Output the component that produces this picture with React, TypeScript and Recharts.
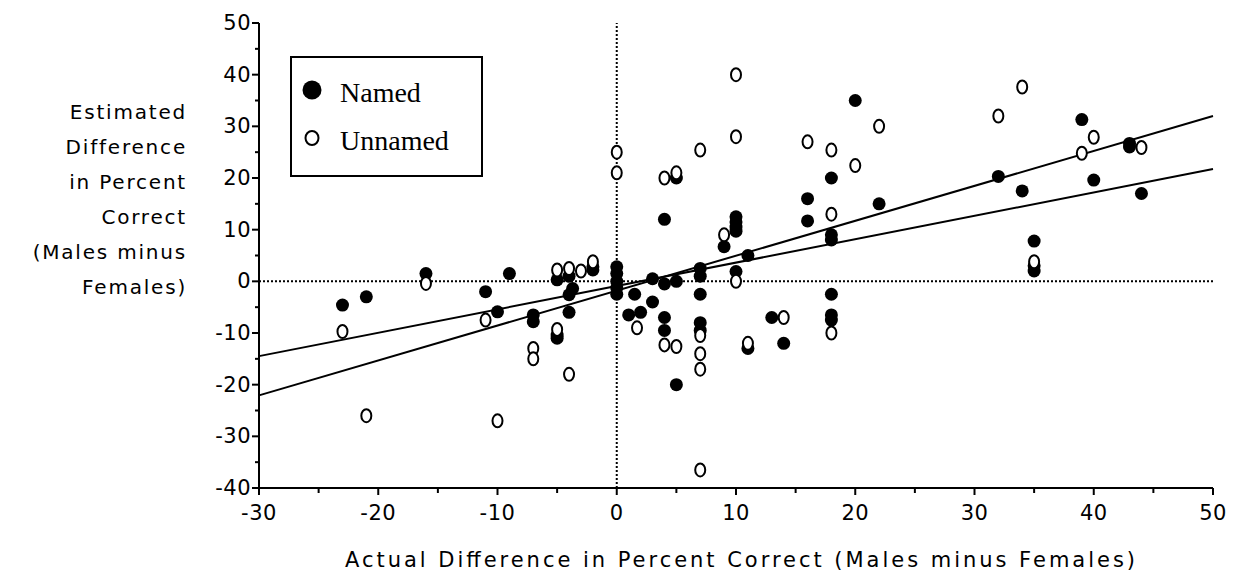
import { ScatterChart, Scatter, XAxis, YAxis, ReferenceLine } from "recharts";

// values
const seriesNames = ["Named", "Unnamed"];

const namedPoints: [number, number][] = [
  [-23, -4.6], [-21, -3], [-16, 1.5], [-11, -2], [-10, -5.9], [-9, 1.5],
  [-7, -6.5], [-7, -7.8], [-5, 0.3], [-5, -10.4], [-5, -11], [-4, 1],
  [-4, -2.6], [-4, -6], [-3.7, -1.4], [-2, 2.2], [-2, 2.8],
  [0, 2.8], [0, 1.5], [0, 0], [0, -1.3], [0, -2.5], [1.5, -2.5], [1, -6.5],
  [2, -6], [3, -4], [3, 0.5], [4, -0.5], [5, 0], [4, -7], [4, -9.5],
  [4, 12], [5, 20], [5, -20], [7, 2.5], [7, 1], [7, -2.5], [7, -8], [7, -9.5],
  [9, 6.7], [10, 12.5], [10, 11.5], [10, 10.5], [10, 9.7], [10, 1.9], [11, 5],
  [11, -13], [13, -7], [14, -12], [16, 16], [16, 11.7], [18, 20], [18, 9],
  [18, 8], [18, -2.5], [18, -6.5], [18, -7.5], [20, 35], [22, 15],
  [32, 20.3], [34, 17.5], [35, 7.8], [35, 3], [35, 2], [39, 31.3],
  [40, 19.6], [43, 26.7], [43, 26], [44, 17],
];

const unnamedPoints: [number, number][] = [
  [-23, -9.7], [-21, -26], [-16, -0.4], [-11, -7.5], [-10, -27], [-7, -13],
  [-7, -15], [-5, 2.2], [-5, -9.3], [-4, 2.5], [-4, -18], [-3, 2], [-2, 3.8],
  [0, 25], [0, 21], [1.7, -9], [4, -12.3], [5, -12.6], [4, 20], [5, 21],
  [7, 25.4], [7, -10.5], [7, -14], [7, -17], [7, -36.5], [9, 9], [10, 40],
  [10, 28], [10, 0], [11, -12], [14, -7], [16, 27], [18, 25.4], [18, 13],
  [18, -10], [20, 22.4], [22, 30], [32, 32], [34, 37.6], [35, 3.8],
  [39, 24.8], [40, 27.9], [44, 25.9],
];

// fitted lines (slope, intercept)
const fitNamed = { slope: 0.4525, intercept: -0.9 };
const fitUnnamed = { slope: 0.676, intercept: -1.8 };

const xDomain: [number, number] = [-30, 50];
const yDomain: [number, number] = [-40, 50];
const xTicks = [-30, -25, -20, -15, -10, -5, 0, 5, 10, 15, 20, 25, 30, 35, 40, 45, 50];
const yTicks = [-40, -35, -30, -25, -20, -15, -10, -5, 0, 5, 10, 15, 20, 25, 30, 35, 40, 45, 50];

const yTitle = ["Estimated", "Difference", "in Percent", "Correct", "(Males minus", "Females)"];
const xTitle = "Actual Difference in Percent Correct (Males minus Females)";

const tickFont = { fontFamily: "DejaVu Sans", fontSize: 21, fill: "#000", letterSpacing: 0.5 };

function XTick({ x, y, payload }: any) {
  const major = payload.value % 10 === 0;
  return (
    <g>
      <line x1={x} x2={x} y1={y} y2={y + (major ? 7 : 5)} stroke="#000" strokeWidth={2} />
      {major && (
        <text x={x} y={y + 25} textAnchor="middle" dominantBaseline="central" {...tickFont}>
          {payload.value}
        </text>
      )}
    </g>
  );
}

function YTick({ x, y, payload }: any) {
  const major = payload.value % 10 === 0;
  return (
    <g>
      <line x1={x - (major ? 7 : 4)} x2={x} y1={y} y2={y} stroke="#000" strokeWidth={2} />
      {major && (
        <text x={x - 8} y={y} textAnchor="end" dominantBaseline="central" {...tickFont}>
          {payload.value}
        </text>
      )}
    </g>
  );
}

const FilledDot = ({ cx, cy }: any) => <circle cx={cx} cy={cy} r={6.5} fill="#000" />;
const OpenDot = ({ cx, cy }: any) => (
  <ellipse cx={cx} cy={cy} rx={5} ry={6.5} fill="#fff" stroke="#000" strokeWidth={2} />
);

const fitSegment = (f: { slope: number; intercept: number }) =>
  xDomain.map((x) => ({ x, y: f.intercept + f.slope * x }));

export default function App() {
  const named = namedPoints.map(([x, y]) => ({ x, y }));
  const unnamed = unnamedPoints.map(([x, y]) => ({ x, y }));

  return (
    <div style={{ position: "absolute", left: 0, top: 0, width: 1236, height: 575, background: "#fff" }}>
      <ScatterChart width={1236} height={575} margin={{ top: 23, right: 23, bottom: 27, left: 199 }}>
        <XAxis
          type="number"
          dataKey="x"
          domain={xDomain}
          ticks={xTicks}
          interval={0}
          height={60}
          tickSize={0}
          tickMargin={0}
          tickLine={false}
          tick={<XTick />}
          axisLine={{ stroke: "#000", strokeWidth: 2 }}
        />
        <YAxis
          type="number"
          dataKey="y"
          domain={yDomain}
          ticks={yTicks}
          interval={0}
          width={60}
          tickSize={0}
          tickMargin={0}
          tickLine={false}
          tick={<YTick />}
          axisLine={{ stroke: "#000", strokeWidth: 2 }}
        />
        <ReferenceLine x={0} stroke="#000" strokeWidth={2} strokeDasharray="2 2" />
        <ReferenceLine y={0} stroke="#000" strokeWidth={2} strokeDasharray="2 2" />
        <ReferenceLine segment={fitSegment(fitNamed)} stroke="#000" strokeWidth={2} />
        <ReferenceLine segment={fitSegment(fitUnnamed)} stroke="#000" strokeWidth={2} />
        <Scatter name={seriesNames[0]} data={named} shape={<FilledDot />} isAnimationActive={false} />
        <Scatter name={seriesNames[1]} data={unnamed} shape={<OpenDot />} isAnimationActive={false} />
      </ScatterChart>

      {/* legend box */}
      <div
        style={{
          position: "absolute",
          left: 290,
          top: 56,
          width: 189,
          height: 117,
          border: "2px solid #000",
          background: "#fff",
        }}
      >
        <svg width={189} height={117} style={{ position: "absolute", left: 0, top: 0 }}>
          <circle cx={20} cy={32} r={9.5} fill="#000" />
          <ellipse cx={20} cy={80} rx={6.5} ry={7} fill="#fff" stroke="#000" strokeWidth={2} />
          <text x={48} y={44} fontFamily="Liberation Serif" fontSize={28} fill="#000">
            {seriesNames[0]}
          </text>
          <text x={48} y={92} fontFamily="Liberation Serif" fontSize={28} fill="#000">
            {seriesNames[1]}
          </text>
        </svg>
      </div>

      {/* axis titles */}
      <svg width={1236} height={575} style={{ position: "absolute", left: 0, top: 0, pointerEvents: "none" }}>
        {yTitle.map((line, i) => (
          <text
            key={i}
            x={187}
            y={112 + i * 35}
            textAnchor="end"
            dominantBaseline="central"
            fontFamily="DejaVu Sans"
            fontSize={20}
            letterSpacing={1.8}
            fill="#000"
          >
            {line}
          </text>
        ))}
        <text
          x={740}
          y={560}
          textAnchor="middle"
          dominantBaseline="central"
          fontFamily="DejaVu Sans"
          fontSize={21}
          textLength={790}
          lengthAdjust="spacing"
          fill="#000"
        >
          {xTitle}
        </text>
      </svg>
    </div>
  );
}
